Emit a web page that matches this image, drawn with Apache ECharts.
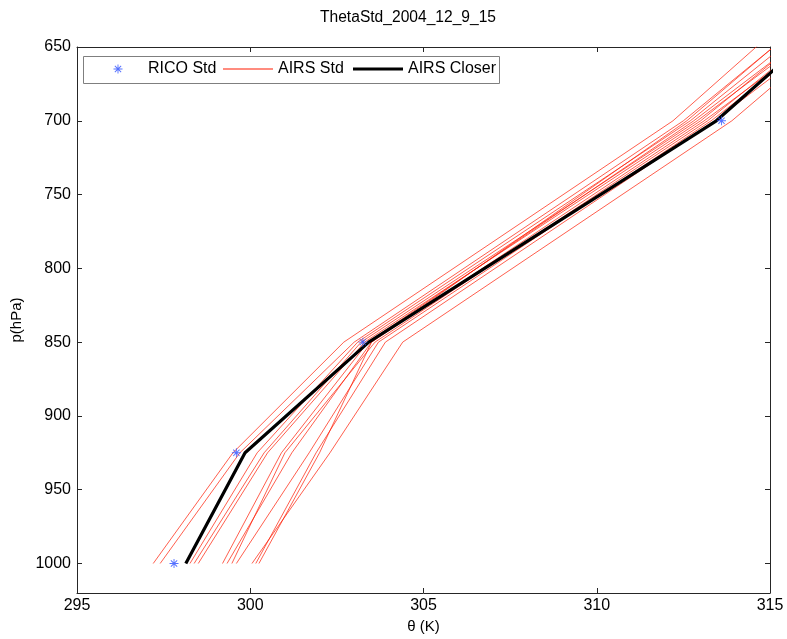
<!DOCTYPE html>
<html>
<head>
<meta charset="utf-8">
<script src="https://cdn.jsdelivr.net/npm/echarts@6/dist/echarts.min.js"></script>
<style>html,body{margin:0;padding:0;background:#fff;}#c{width:787px;height:639px;}</style>
</head>
<body>
<div id="c"></div>
<script>
var pressures = [1000, 925, 850, 700, 600];
var ricoPressures = [1000, 925, 850, 700];
var ricoStd = [297.8, 299.6, 303.25, 313.6];
var airsCloser = [298.14, 299.85, 303.42, 313.45, 318.26];
var airsStd = [
  [297.2, 299.5, 302.7, 312.2, 317.0],
  [297.4, 299.7, 303.0, 312.5, 317.7],
  [298.26, 300.2, 303.1, 312.7, 318.0],
  [298.38, 300.4, 303.2, 312.9, 318.6],
  [298.5, 300.5, 303.3, 313.0, 318.2],
  [299.2, 300.9, 303.4, 312.8, 318.4],
  [299.33, 301.2, 303.5, 313.1, 318.9],
  [299.47, 301.0, 303.6, 313.2, 318.5],
  [299.6, 301.7, 303.7, 313.3, 318.8],
  [300.05, 302.3, 304.4, 313.9, 318.9],
  [300.16, 301.9, 303.9, 313.4, 319.0],
  [300.25, 302.0, 303.5, 312.6, 317.6]
];
var xTicks = [295, 300, 305, 310, 315];
var yTicks = [650, 700, 750, 800, 850, 900, 950, 1000];

var starPath = 'path://M-1,-10 L1,-10 L1,10 L-1,10 Z M-10,-1 L10,-1 L10,1 L-10,1 Z M-6.3,-7.7 L7.7,6.3 L6.3,7.7 L-7.7,-6.3 Z M-7.7,6.3 L6.3,-7.7 L7.7,-6.3 L-6.3,7.7 Z';
var thinLine = 'path://M0,0 L50,0 L50,0.8 L0,0.8 Z';
var thickLine = 'path://M0,0 L50,0 L50,3.2 L0,3.2 Z';
var FONT = '"Liberation Sans", Arial, sans-serif';
var RED = '#ff1a00';

function pairs(xs, ps) { return xs.map(function (x, i) { return [x, ps[i]]; }); }

var series = [];
airsStd.forEach(function (row) {
  series.push({
    name: 'AIRS Std', type: 'line', data: pairs(row, pressures),
    symbol: 'none', lineStyle: { color: RED, width: 0.7 }, itemStyle: { color: RED },
    silent: true, animation: false, z: 2
  });
});
series.push({
  name: 'AIRS Closer', type: 'line', data: pairs(airsCloser, pressures),
  symbol: 'none', lineStyle: { color: '#000', width: 3.2 }, itemStyle: { color: '#000' },
  animation: false, z: 3
});
series.push({
  name: 'RICO Std', type: 'scatter', data: pairs(ricoStd, ricoPressures),
  symbol: starPath, symbolSize: 9, itemStyle: { color: '#2a4dff' }, animation: false, z: 4
});

function legendAt(left, name, icon, iw, ih, textPadLeft) {
  return {
    left: left, top: 61, orient: 'horizontal', padding: 0, z: 8,
    itemWidth: iw, itemHeight: ih, selectedMode: false,
    textStyle: { fontFamily: FONT, fontSize: 16, color: '#000', padding: [0, 0, 0, textPadLeft] },
    data: [{ name: name, icon: icon }]
  };
}

var axisLineStyle = { color: '#262626', width: 1 };
var chart = echarts.init(document.getElementById('c'), null, { renderer: 'canvas' });
chart.setOption({
  backgroundColor: '#fff',
  animation: false,
  title: {
    text: 'ThetaStd_2004_12_9_15', left: 320, top: 10, padding: 0,
    textStyle: { fontFamily: FONT, fontSize: 15.6, fontWeight: 'normal', color: '#000' }
  },
  graphic: [{
    type: 'rect', z: 7, silent: true,
    shape: { x: 83.5, y: 56.5, width: 416, height: 27 },
    style: { fill: '#fff', stroke: '#7f7f7f', lineWidth: 1 }
  }],
  legend: [
    legendAt(113.5, 'RICO Std', starPath, 9, 9, 20.5),
    legendAt(223, 'AIRS Std', thinLine, 50, 9, 0),
    legendAt(353, 'AIRS Closer', thickLine, 50, 9, 0)
  ],
  grid: { left: 77, top: 47, right: 17, bottom: 44, containLabel: false },
  xAxis: [
    {
      type: 'value', min: xTicks[0], max: xTicks[xTicks.length - 1], interval: 5,
      position: 'bottom', name: 'θ (K)', nameLocation: 'middle', nameGap: 26,
      nameTextStyle: { fontFamily: FONT, fontSize: 15, color: '#000' },
      axisLine: { show: true, lineStyle: axisLineStyle },
      axisTick: { show: true, inside: true, length: 5, lineStyle: axisLineStyle },
      axisLabel: { fontFamily: FONT, fontSize: 16, color: '#000', margin: 5 },
      splitLine: { show: false }
    },
    {
      type: 'value', min: xTicks[0], max: xTicks[xTicks.length - 1], interval: 5,
      position: 'top',
      axisLine: { show: true, lineStyle: axisLineStyle },
      axisTick: { show: true, inside: true, length: 5, lineStyle: axisLineStyle },
      axisLabel: { show: false }, splitLine: { show: false }
    }
  ],
  yAxis: [
    {
      type: 'value', inverse: true, min: yTicks[0], max: 1020, interval: 50,
      position: 'left', name: 'p(hPa)', nameLocation: 'middle', nameGap: 51,
      nameTextStyle: { fontFamily: FONT, fontSize: 15, color: '#000' },
      axisLine: { show: true, lineStyle: axisLineStyle },
      axisTick: { show: true, inside: true, length: 5, lineStyle: axisLineStyle },
      axisLabel: {
        fontFamily: FONT, fontSize: 16, color: '#000', margin: 6,
        formatter: function (v) { return yTicks.indexOf(v) >= 0 ? String(v) : ''; }
      },
      splitLine: { show: false }
    },
    {
      type: 'value', inverse: true, min: yTicks[0], max: 1020, interval: 50,
      position: 'right',
      axisLine: { show: true, lineStyle: axisLineStyle },
      axisTick: { show: true, inside: true, length: 5, lineStyle: axisLineStyle },
      axisLabel: { show: false }, splitLine: { show: false }
    }
  ],
  series: series
});
</script>
</body>
</html>
